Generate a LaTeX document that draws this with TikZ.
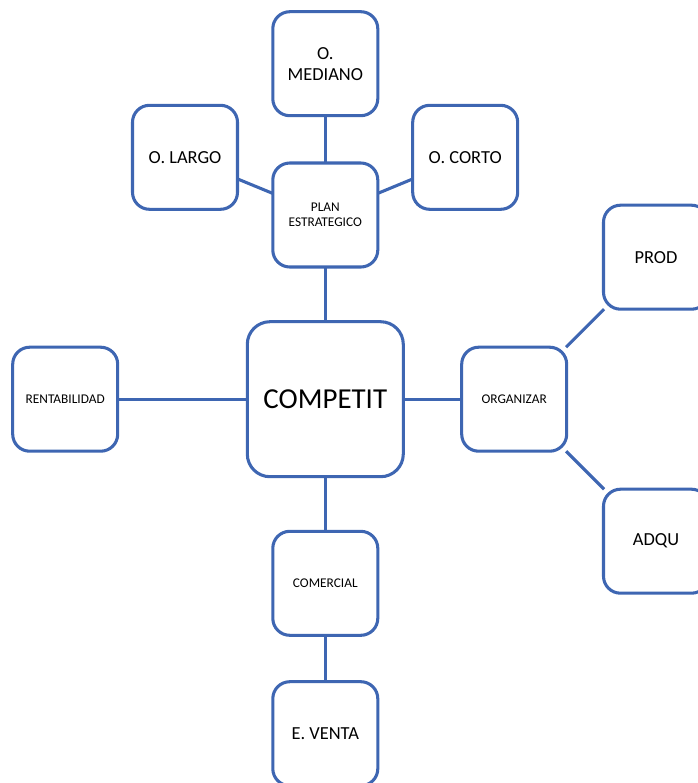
\documentclass[tikz,border=0pt]{standalone}
\usepackage{fontspec}
\setmainfont{Carlito}
\usepackage{xcolor}
\usetikzlibrary{positioning}
\definecolor{boxblue}{RGB}{62,102,178}

\begin{document}
\begin{tikzpicture}[x=0.75pt, y=-0.75pt,
          nd/.style={draw=boxblue, line width=2.3pt, fill=white, rounded corners=12.75pt,
                     minimum width=78.75pt, minimum height=78pt, inner sep=0pt,
                     outer sep=0pt, align=center, font=\fontsize{13.8}{15.8}\selectfont},
          ndsm/.style={nd, font=\fontsize{10}{11.3}\selectfont},
          ndbig/.style={nd, rounded corners=17pt, minimum width=117pt,
                     minimum height=116.25pt, font=\fontsize{21.7}{26}\selectfont},
          ln/.style={draw=boxblue, line width=2.3pt}]
        \useasboundingbox (0,0) rectangle (698,783);
        \node[ndbig] (cmp) at (325.3,399.2) {COMPETIT};
        \node[ndsm]  (plan) at (325.3,215) {PLAN\\ESTRATEGICO};
        \node[nd]    (med) at (325.3,63.7) {O.\\MEDIANO};
        \node[nd]    (lar) at (185,157.3) {O. LARGO};
        \node[nd]    (cor) at (465.2,157.3) {O. CORTO};
        \node[ndsm]  (ren) at (65.2,399.2) {RENTABILIDAD};
        \node[ndsm]  (org) at (514.2,399.2) {ORGANIZAR};
        \node[nd]    (prd) at (656,257.2) {PROD};
        \node[nd]    (adq) at (656,541.2) {ADQU};
        \node[ndsm]  (com) at (325.3,583.3) {COMERCIAL};
        \node[nd]    (ven) at (325.3,733.7) {E. VENTA};
        % connectors
        \draw[ln] (med) -- (plan);
        \draw[ln] (lar) -- (plan);
        \draw[ln] (cor) -- (plan);
        \draw[ln] (plan) -- (cmp);
        \draw[ln] (ren) -- (cmp);
        \draw[ln] (cmp) -- (org);
        \draw[ln] (org) -- (prd);
        \draw[ln] (org) -- (adq);
        \draw[ln] (cmp) -- (com);
        \draw[ln] (com) -- (ven);
      \end{tikzpicture}
\end{document}
